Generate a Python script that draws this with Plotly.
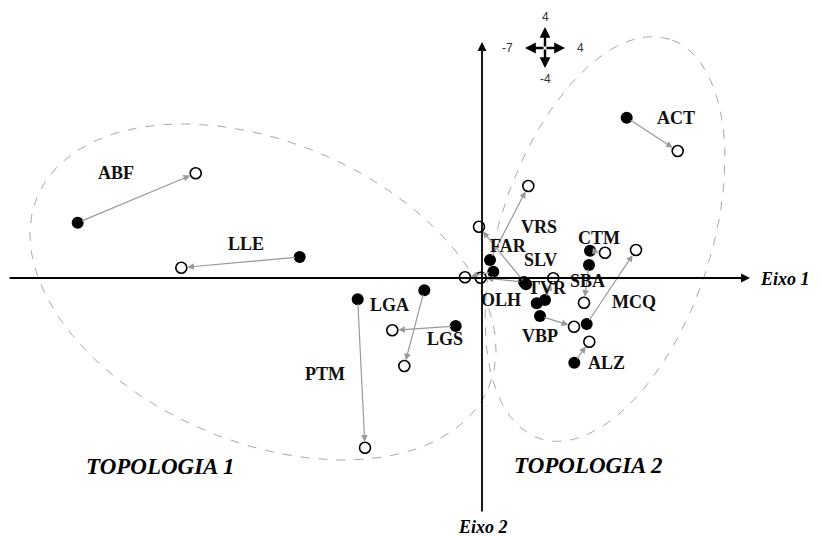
import numpy as np
import plotly.graph_objects as go

# municipios: posição inicial (cheio) -> posição final (vazio)
nomes = ["ACT", "ABF", "LLE", "LGA", "LGS", "PTM", "VRS", "FAR", "SLV",
         "OLH", "TVR", "VBP", "CTM", "SBA", "MCQ", "ALZ"]
x_ini = [14.47, -40.43, -18.23, -5.77, -2.63, -12.43, 0.8, 4.4, 1.13,
         4.2, 6.3, 5.8, 10.8, 10.7, 10.47, 9.23]
y_ini = [16.03, 5.53, 2.1, -1.23, -4.8, -2.13, 1.8, -0.63, 0.63,
         -0.4, -2.2, -3.8, 2.73, 1.3, -4.6, -8.47]
x_fim = [19.57, -28.63, -30.07, -7.77, -8.97, -11.7, 4.63, -0.3, -1.7,
         -0.13, 7.13, 9.2, 12.3, 10.2, 15.4, 10.73]
y_fim = [12.7, 10.47, 1.03, -8.8, -5.23, -16.97, 9.2, 5.13, 0.07,
         0.03, -0.03, -4.87, 2.53, -2.47, 2.8, -6.37]
# ponto cheio sem seta
x_extra = [5.47]
y_extra = [-2.53]

# posição dos rótulos
lab_x = [19.37, -36.6, -23.6, -9.3, -3.7, -15.7, 5.7, 2.6, 5.8,
         1.9, 6.5, 5.8, 11.7, 10.5, 15.2, 12.4]
lab_y = [16.03, 10.5, 3.4, -2.7, -6.1, -9.6, 5.1, 3.2, 1.8,
         -2.2, -1.0, -5.8, 4.0, -0.3, -2.4, -8.5]

serif = "Liberation Serif"


def elipse(cx, cy, a, b, ang):
    t = np.linspace(0, 2 * np.pi, 200)
    th = np.radians(ang)
    ex = cx + a * np.cos(t) * np.cos(th) - b * np.sin(t) * np.sin(th)
    ey = cy + a * np.cos(t) * np.sin(th) + b * np.sin(t) * np.cos(th)
    return ex, ey


fig = go.Figure()

for (cx, cy, a, b, ang) in [(-21.9, -1.4, 24.5, 15, -23), (12.3, 3.9, 21, 10.6, 72)]:
    ex, ey = elipse(cx, cy, a, b, ang)
    fig.add_trace(go.Scatter(x=ex, y=ey, mode="lines", hoverinfo="skip",
                             line=dict(color="#a8a8a8", width=1, dash="dash")))

fig.add_trace(go.Scatter(x=x_ini + x_extra, y=y_ini + y_extra, mode="markers",
                         marker=dict(size=12, color="black")))
fig.add_trace(go.Scatter(x=x_fim, y=y_fim, mode="markers",
                         marker=dict(size=11, color="white",
                                     line=dict(color="black", width=1.6))))

ann = []
# setas cinzentas
for i in range(len(nomes)):
    ann.append(dict(x=x_fim[i], y=y_fim[i], ax=x_ini[i], ay=y_ini[i],
                    xref="x", yref="y", axref="x", ayref="y", text="",
                    showarrow=True, arrowhead=2, arrowsize=1.1, arrowwidth=1.2,
                    arrowcolor="#999999", standoff=6, startstandoff=3))
    ann.append(dict(x=lab_x[i], y=lab_y[i], text="<b>" + nomes[i] + "</b>",
                    showarrow=False, font=dict(family=serif, size=18, color="#111")))

# eixos
ann.append(dict(x=26.8, y=0, ax=-47.4, ay=0, xref="x", yref="y", axref="x", ayref="y",
                text="", showarrow=True, arrowhead=2, arrowsize=1, arrowwidth=1.8,
                arrowcolor="black"))
ann.append(dict(x=0, y=23.6, ax=0, ay=-23.5, xref="x", yref="y", axref="x", ayref="y",
                text="", showarrow=True, arrowhead=2, arrowsize=1, arrowwidth=1.8,
                arrowcolor="black"))
ann.append(dict(x=30.3, y=-0.1, text="<b><i>Eixo 1</i></b>", showarrow=False,
                font=dict(family=serif, size=18, color="black")))
ann.append(dict(x=0.1, y=-24.9, text="<b><i>Eixo 2</i></b>", showarrow=False,
                font=dict(family=serif, size=18, color="black")))
ann.append(dict(x=-32.2, y=-18.8, text="<b><i>TOPOLOGIA 1</i></b>", showarrow=False,
                font=dict(family=serif, size=23, color="black")))
ann.append(dict(x=10.6, y=-18.7, text="<b><i>TOPOLOGIA 2</i></b>", showarrow=False,
                font=dict(family=serif, size=23, color="black")))

# escala (bússola)
cx, cy = 6.3, 23.0
for dx, dy in [(2.0, 0), (-2.0, 0), (0, 2.1), (0, -2.0)]:
    ann.append(dict(x=cx + dx, y=cy + dy, ax=cx, ay=cy, xref="x", yref="y",
                    axref="x", ayref="y", text="", showarrow=True, arrowhead=2,
                    arrowsize=0.9, arrowwidth=2.4, arrowcolor="black"))
for tx, ty, t in [(6.3, 26.1, "4"), (6.3, 19.9, "-4"), (2.5, 23.0, "-7"), (9.8, 23.0, "4")]:
    ann.append(dict(x=tx, y=ty, text=t, showarrow=False,
                    font=dict(family="Liberation Sans", size=12, color="#333")))

# a página tem 8 px de margem: a figura começa em (8, 8)
fig.update_layout(
    width=813, height=529, autosize=False,
    margin=dict(l=0, r=0, t=0, b=0),
    plot_bgcolor="white", paper_bgcolor="white",
    showlegend=False, annotations=ann,
    xaxis=dict(range=[-47.4, 33.9], visible=False, fixedrange=True),
    yaxis=dict(range=[-25.9, 27.0], visible=False, fixedrange=True),
)

fig.write_html("out.html")
